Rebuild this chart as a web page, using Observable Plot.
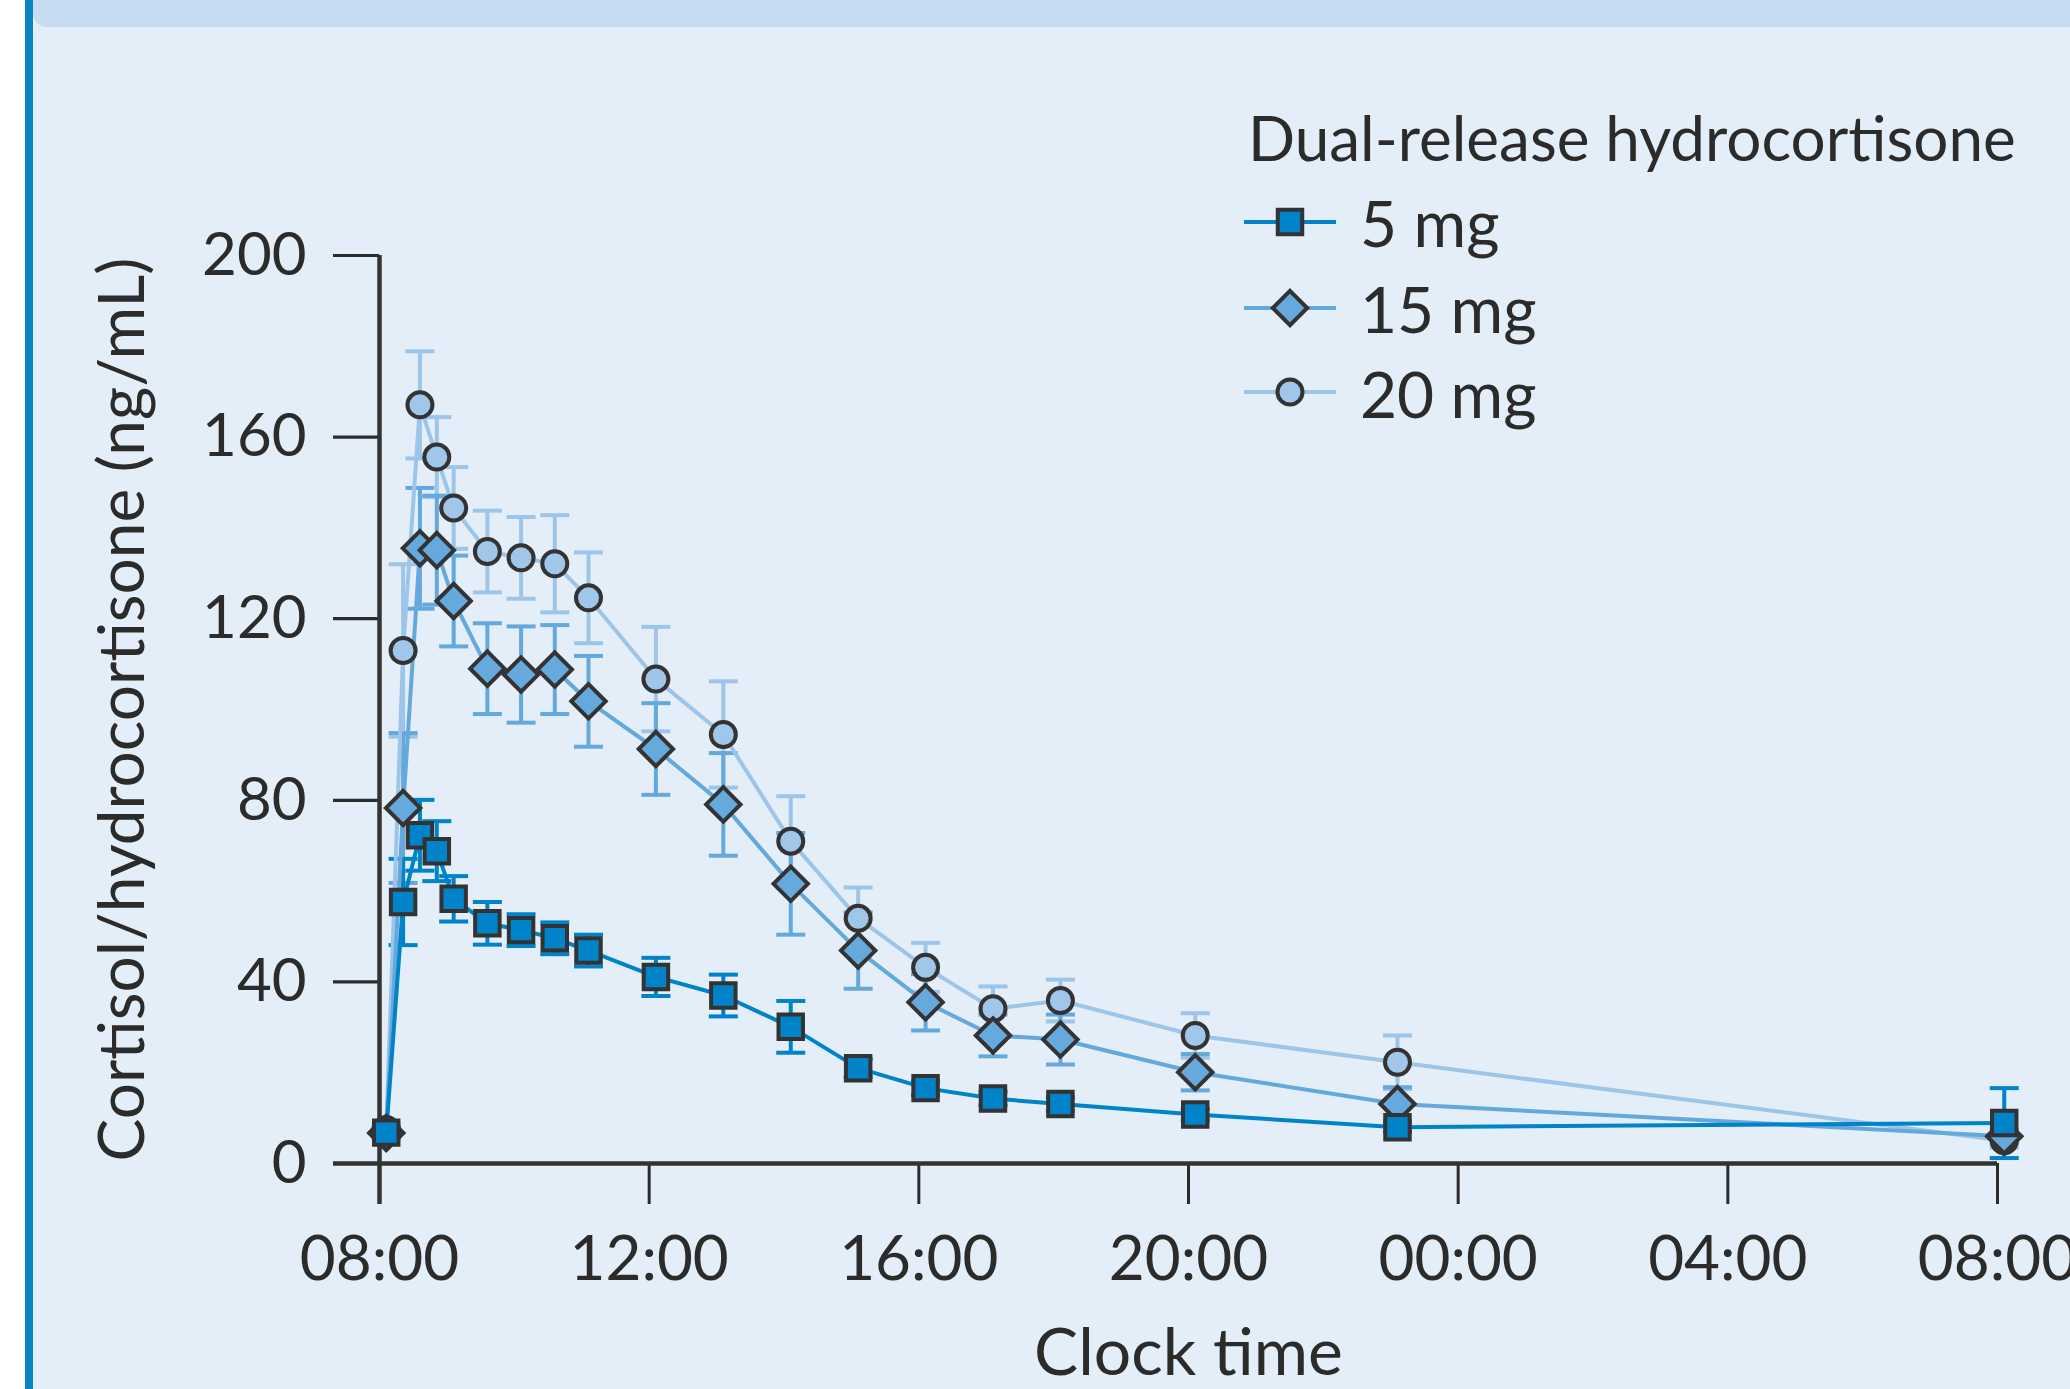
<!DOCTYPE html>
<html><head><meta charset="utf-8">
<script src="https://cdn.jsdelivr.net/npm/d3@7"></script>
<script src="https://cdn.jsdelivr.net/npm/@observablehq/plot@0.6"></script>
<style>
html,body{margin:0;padding:0;background:#fff;}
#page{position:relative;width:2070px;height:1389px;overflow:hidden;background:#e3eef8;font-family:Lato,"Open Sans",sans-serif;}
#strip{position:absolute;left:0;top:0;width:25px;height:1389px;background:#fff;}
#border{position:absolute;left:25px;top:0;width:8px;height:1389px;background:#0a84c7;}
#band{position:absolute;left:33px;top:0;right:0;height:27px;background:#c8dcf1;border-bottom-left-radius:14px;}
#chart{position:absolute;left:0;top:0;}
#legend{position:absolute;left:0;top:0;pointer-events:none;}
</style></head>
<body><div id="page"><div id="strip"></div><div id="border"></div><div id="band"></div><div id="chart"></div><svg id="legend" width="2070" height="1389"></svg></div>
<script>
// ---- data (hours after 08:00) ----
const hours = [0.1, 0.35, 0.6, 0.85, 1.1, 1.6, 2.1, 2.6, 3.1, 4.1, 5.1, 6.1, 7.1, 8.1, 9.1, 10.1, 12.1, 15.1, 24.1];
const mg5    = [6.8, 57.6, 72.3, 68.8, 58.3, 52.9, 51.4, 49.6, 46.9, 41.1, 37.0, 30.1, 21.0, 16.6, 14.3, 13.1, 10.8, 8.0, 8.9];
const mg5Err = [1.0, 9.5, 7.8, 6.6, 5.0, 4.7, 3.5, 3.5, 3.5, 4.2, 4.6, 5.7, 2.0, 1.5, 1.5, 1.5, 1.2, 1.0, 7.7];
const mg15    = [6.7, 78.3, 135.5, 135.1, 123.9, 109.0, 107.7, 108.8, 101.8, 91.3, 79.1, 61.6, 46.9, 35.5, 28.2, 27.3, 20.1, 13.1, 6.0];
const mg15Err = [1.0, 16.5, 13.3, 12.0, 10.0, 10.0, 10.6, 9.8, 10.0, 10.1, 11.3, 11.2, 8.4, 6.2, 4.6, 5.5, 4.0, 3.7, 1.5];
const mg20    = [7.5, 113.0, 167.1, 155.6, 144.4, 134.8, 133.4, 132.1, 124.6, 106.7, 94.5, 71.0, 54.0, 43.2, 34.1, 35.9, 28.2, 22.3, 5.0];
const mg20Err = [1.0, 19.0, 11.8, 8.8, 9.0, 9.0, 9.0, 10.7, 10.0, 11.5, 11.7, 9.9, 6.8, 5.4, 4.9, 4.6, 4.9, 5.9, 1.5];

const seriesNames = ["5 mg", "15 mg", "20 mg"];
const xTicks = [0, 4, 8, 12, 16, 20, 24];
const xTickLabels = ["08:00", "12:00", "16:00", "20:00", "00:00", "04:00", "08:00"];
const yTicks = [0, 40, 80, 120, 160, 200];
const xTitle = "Clock time";
const yTitle = "Cortisol/hydrocortisone (ng/mL)";
const legendTitle = "Dual-release hydrocortisone";

// ---- styles ----
const lineColors = ["#0083c9", "#65a8dc", "#9dc5e9"];
const markerFills = ["#0083c9", "#66a9dd", "#a0c6ea"];
const markerSymbols = ["square", "diamond2", "circle"];
const markerR = [13.8, 15.5, 12.5];
const ink = "#2b2b2b";
const markStroke = "#333333";

const values = [mg5, mg15, mg20];
const errs = [mg5Err, mg15Err, mg20Err];
const series = values.map((vals, s) => hours.map((t, i) => ({t, v: vals[i], e: errs[s][i], s: seriesNames[s]})));

const capSymbol = {draw(ctx, size) { const h = Math.sqrt(size / Math.PI); ctx.moveTo(-h, 0); ctx.lineTo(h, 0); }};
const xLabel = new Map(xTicks.map((t, i) => [t, xTickLabels[i]]));

const order = [2, 1, 0];
const marks = [];
for (const s of order) {
  const d = series[s];
  marks.push(Plot.ruleX(d, {x: "t", y1: r => r.v - r.e, y2: r => r.v + r.e, stroke: lineColors[s], strokeWidth: 4}));
  marks.push(Plot.dot(d, {x: "t", y: r => r.v + r.e, symbol: capSymbol, r: 14.5, stroke: lineColors[s], strokeWidth: 4, fill: "none"}));
  marks.push(Plot.dot(d, {x: "t", y: r => r.v - r.e, symbol: capSymbol, r: 14.5, stroke: lineColors[s], strokeWidth: 4, fill: "none"}));
}
for (const s of order) {
  marks.push(Plot.line(series[s], {x: "t", y: "v", stroke: lineColors[s], strokeWidth: 4}));
}
for (const s of order) {
  marks.push(Plot.dot(series[s], {x: "t", y: "v", symbol: markerSymbols[s], r: markerR[s], fill: markerFills[s], stroke: markStroke, strokeWidth: 4}));
}

const chart = Plot.plot({
  width: 2070, height: 1389,
  marginLeft: 379, marginRight: 73, marginTop: 255, marginBottom: 226,
  x: {type: "linear", domain: [0, 24]},
  y: {type: "linear", domain: [0, 200]},
  style: {background: "transparent", fontFamily: "Lato, 'Open Sans', sans-serif", color: ink, overflow: "visible"},
  marks: [
    Plot.axisY({ticks: yTicks, tickSize: 46, tickPadding: 27, fontSize: 60, strokeWidth: 3.2, color: ink, label: null}),
    Plot.axisX({ticks: xTicks, tickFormat: d => xLabel.get(d), tickSize: 41, tickPadding: 31, fontSize: 62, strokeWidth: 3, color: ink, label: null}),
    Plot.ruleY([0], {insetLeft: -46, stroke: markStroke, strokeWidth: 4.5}),
    Plot.ruleX([0], {y1: 200, y2: 0, insetBottom: -41, stroke: markStroke, strokeWidth: 4.5}),
    Plot.text([yTitle], {text: d => d, frameAnchor: "left", textAnchor: "middle", dx: -256, rotate: -90, fontSize: 64, fill: ink}),
    Plot.text([xTitle], {text: d => d, frameAnchor: "bottom", textAnchor: "middle", dy: 211, fontSize: 66, fill: ink}),
    ...marks
  ]
});
document.getElementById("chart").appendChild(chart);

// ---- legend ----
const leg = d3.select("#legend").attr("font-family", "Lato, 'Open Sans', sans-serif");
leg.append("text").attr("x", 1248).attr("y", 161).attr("font-size", 62).attr("fill", ink).text(legendTitle);
const legY = [222, 308, 392];
const legBase = [247, 333, 418];
const d3Symbols = {square: d3.symbolSquare, diamond2: d3.symbolDiamond2, circle: d3.symbolCircle};
seriesNames.forEach((name, i) => {
  leg.append("line").attr("x1", 1244).attr("x2", 1336).attr("y1", legY[i]).attr("y2", legY[i])
    .attr("stroke", lineColors[i]).attr("stroke-width", 4);
  leg.append("path").attr("transform", `translate(1290,${legY[i]})`)
    .attr("d", d3.symbol(d3Symbols[markerSymbols[i]], markerR[i] * markerR[i] * Math.PI)())
    .attr("fill", markerFills[i]).attr("stroke", markStroke).attr("stroke-width", 4);
  leg.append("text").attr("x", 1360).attr("y", legBase[i]).attr("font-size", 64).attr("fill", ink).text(name);
});
</script></body></html>
